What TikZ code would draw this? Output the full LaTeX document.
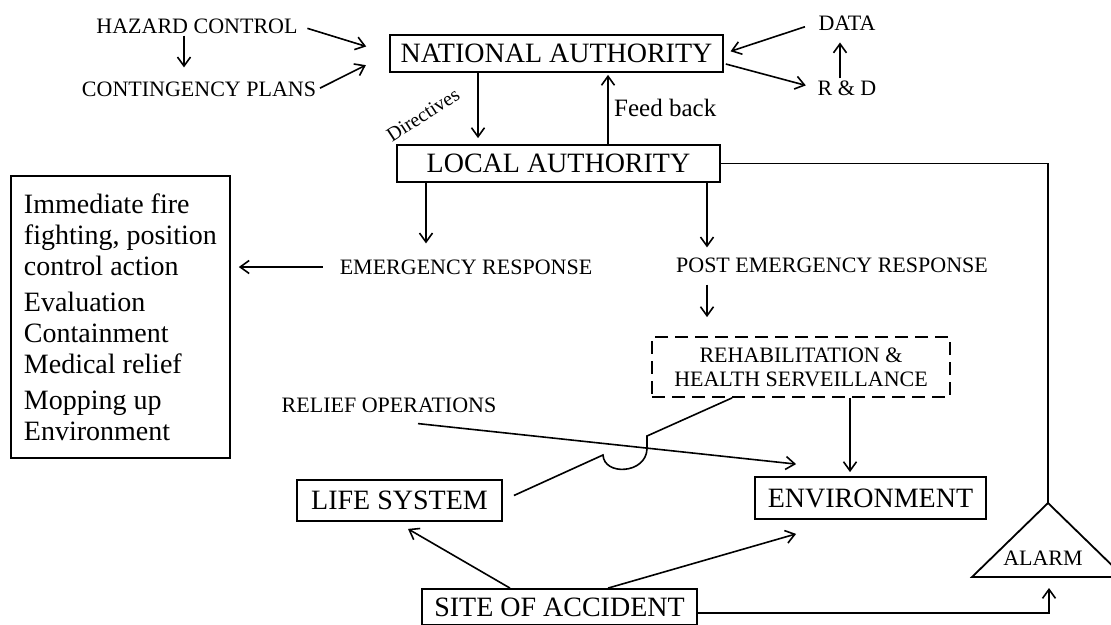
\documentclass[tikz,border=0pt]{standalone}
\usepackage{fontspec}
\setmainfont{Liberation Serif}
\usetikzlibrary{arrows.meta}

\begin{document}
\begin{tikzpicture}[x=1pt,y=-1pt,
        box/.style={draw,line width=1.8pt,inner sep=0pt,font=\fontsize{28}{30}\selectfont},
        lbl/.style={inner sep=2pt,font=\fontsize{22}{24}\selectfont},
        arr/.style={-{Straight Barb[length=9pt,width=13pt,line width=1.6pt]},line width=1.6pt}]
        \useasboundingbox (0,0) rectangle (1111,624);
        \clip (0,0) rectangle (1111,624);

        \node[lbl] (hazard) at (197,26) {HAZARD CONTROL};
        \node[lbl] (conting) at (199,89) {CONTINGENCY PLANS};
        \node[box,minimum width=333pt,minimum height=37pt] (national) at (556.5,53.5) {NATIONAL AUTHORITY};
        \node[box,minimum width=323pt,minimum height=37pt] (local) at (558.5,163.5) {LOCAL AUTHORITY};
        \node[lbl] (data) at (847,23) {DATA};
        \node[lbl] (rnd) at (847,88) {R \& D};
        \node[lbl,rotate=33,font=\fontsize{20}{22}\selectfont] (directives) at (423,115) {Directives};
        \node[lbl,anchor=west,font=\fontsize{25}{27}\selectfont] (feedback) at (612,108) {Feed back};
        \node[lbl] (emerg) at (466,267) {EMERGENCY RESPONSE};
        \node[lbl] (post) at (832,265) {POST EMERGENCY RESPONSE};
        \node[box,dash pattern=on 13pt off 7pt,minimum width=298pt,minimum height=60pt,align=center,font=\fontsize{22}{24}\selectfont] (rehab) at (801,367) {REHABILITATION \&\\HEALTH SERVEILLANCE};
        \node[lbl] (relief) at (389,405) {RELIEF OPERATIONS};
        \node[box,minimum width=205pt,minimum height=41pt] (life) at (399.5,500.5) {LIFE SYSTEM};
        \node[box,minimum width=231pt,minimum height=42pt] (env) at (870.5,498) {ENVIRONMENT};
        \node[box,minimum width=275pt,minimum height=36pt] (site) at (559.5,607) {SITE OF ACCIDENT};
        \node[box,align=left,minimum width=219pt,minimum height=282pt,anchor=north west,font=\fontsize{28}{31}\selectfont] (actions) at (10,175)
            {Immediate fire\\ fighting, position\\ control action\\[5pt] Evaluation\\ Containment\\ Medical relief\\[5pt] Mopping up\\ Environment};

        % alarm triangle
        \coordinate (alarm) at (1048,503);
        \coordinate (alarmbase) at (1049,577);
        \draw[line width=1.8pt] (alarm) -- ++(-76,74) -- ++(152,0) -- cycle;
        \node[lbl] (alarmtxt) at (1043,558) {ALARM};

        \draw[arr,shorten >=12pt] ([xshift=-13pt]hazard.south) -- ([xshift=-15pt]conting.north);
        \draw[arr,shorten <=8pt,shorten >=24pt] (hazard.east) -- (national.west);
        \draw[arr,shorten <=2pt,shorten >=26pt] (conting.east) -- (national.west);
        \draw[arr,shorten <=12pt,shorten >=7pt] (data.west) -- (national.east);
        \draw[arr,shorten <=2pt,shorten >=10pt] ([yshift=-10pt]national.east) -- (rnd.west);
        \draw[arr,shorten >=10pt] ([xshift=-7pt]rnd.north) -- ([xshift=-7pt]data.south);

        \draw[arr,shorten >=6pt] ([xshift=-78.5pt]national.south) -- ([xshift=-80.5pt]local.north);
        \draw[arr,shorten >=2pt] ([xshift=49.5pt]local.north) -- ([xshift=51.5pt]national.south);
        \draw[arr,line width=2.2pt,shorten >=14pt] ([xshift=-132.5pt]local.south) -- ([xshift=-40pt]emerg.north);
        \draw[arr,line width=2.2pt,shorten >=8pt] ([xshift=148.5pt]local.south) -- ([xshift=-125pt]post.north);
        \draw[arr,line width=1.2pt,shorten <=15pt,shorten >=8pt] (emerg.west) -- (actions.east |- emerg.west);
        \draw[arr,shorten <=10pt,shorten >=19pt] ([xshift=-125pt]post.south) -- ([xshift=-94pt]rehab.north);
        \draw[arr,line width=2.2pt,shorten >=4pt] ([xshift=49pt]rehab.south) -- ([xshift=-20.5pt]env.north);

        \draw[arr] ([xshift=29pt,yshift=-9pt]relief.south) -- ([xshift=42pt,yshift=12pt]env.north west);
        \draw[line width=1.6pt] ([xshift=11pt,yshift=5pt]life.east) -- (603,455)
            .. controls (604,476) and (646,474) .. (647,449) -- (647,436) -- ([xshift=81pt]rehab.south west);

        \draw[arr] ([xshift=-49.5pt]site.north) -- ([xshift=8.5pt,yshift=-7pt]life.south);
        \draw[arr] ([xshift=48.5pt]site.north) -- ([xshift=42pt,yshift=-14pt]env.south west);
        \draw[line width=1.8pt] (local.east) -| (alarm);
        \draw[arr,shorten >=11pt] ([yshift=-6pt]site.east) -| (alarmbase);
\end{tikzpicture}
\end{document}
